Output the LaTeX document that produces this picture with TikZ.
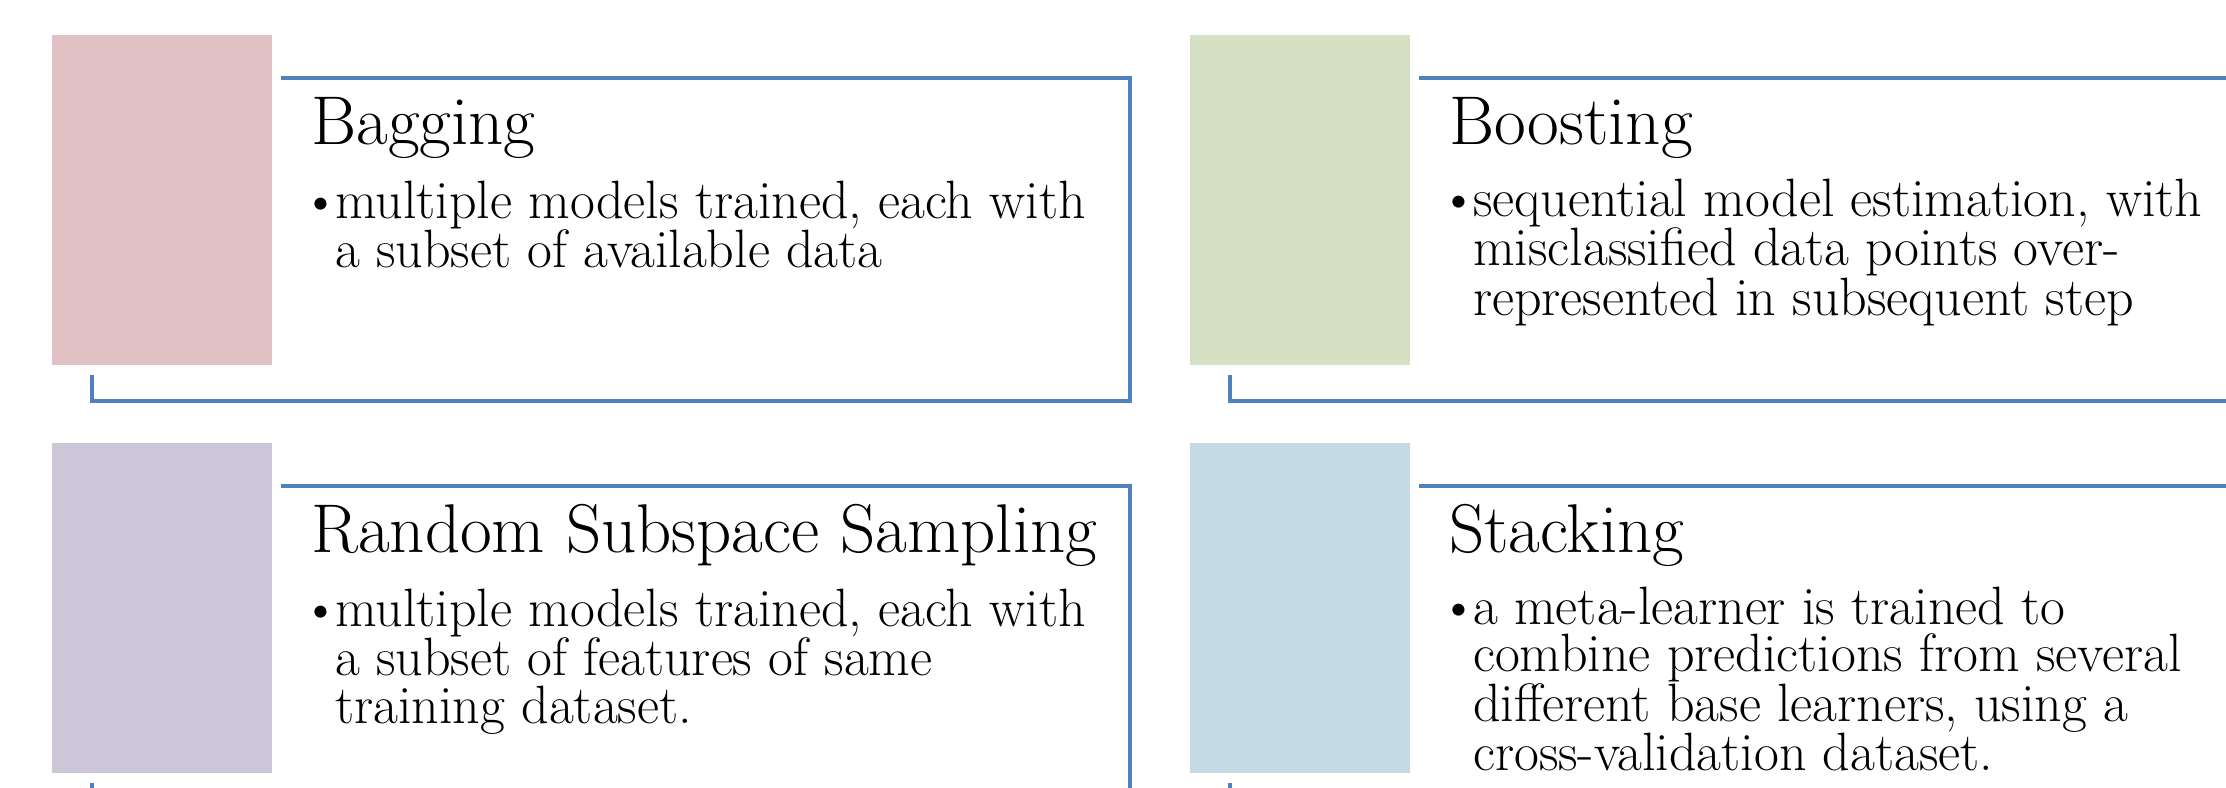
\documentclass[tikz,border=0pt]{standalone}
\definecolor{frameblue}{HTML}{4F81BD}
\definecolor{swpink}{HTML}{E2C1C4}
\definecolor{swgreen}{HTML}{D6E0C4}
\definecolor{swpurple}{HTML}{CDC6D8}
\definecolor{swblue}{HTML}{C3DAE3}
\newcommand\bul{\makebox[24pt][l]{\hspace*{-10pt}\textbullet}}
\newcommand\ind{\hspace*{24pt}}
% #1 name, #2 x shift, #3 y shift, #4 colour, #5 title, #6 number of body lines, #7 body
\newcommand\cellbox[7]{%
\begin{scope}[shift={(#2,#3)}]
  \node[swatch, fill=#4] (#1sw) at (52,35) {};
  \coordinate (#1a) at (281,78);
  \coordinate (#1b) at (1130,401);
  \coordinate (#1c) at (92,375);
  \draw[frame] (#1a) -| (#1b) -| (#1c);
  \node[titletext] (#1t) at (311,144) {#5};
  \node[bodytext] (#1x) at (311,{220+(#6-1)*47.5}) {#7};
\end{scope}}
\begin{document}
\begin{tikzpicture}[x=1pt,y=-1pt,
  frame/.style={draw=frameblue, line width=4.5pt},
  swatch/.style={draw=none, minimum width=220pt, minimum height=330pt, inner sep=0pt, outer sep=0pt, anchor=north west},
  titletext/.style={anchor=base west, inner sep=0pt, font=\fontsize{69}{72}\selectfont},
  bodytext/.style={anchor=base west, inner sep=0pt, align=left, font=\fontsize{54}{47.5}\selectfont}]
\path[use as bounding box] (0,0) rectangle (2226,787);
\clip (0,0) rectangle (2226,787);
\cellbox{bag}{0}{0}{swpink}{Bagging}{2}{\bul multiple models trained, each with\\\ind a subset of available data}
\cellbox{boo}{1138}{0}{swgreen}{Boosting}{3}{\bul sequential model estimation, with\\\ind misclassified data points over-\\\ind represented in subsequent step}
\cellbox{rss}{0}{408}{swpurple}{Random Subspace Sampling}{3}{\bul multiple models trained, each with\\\ind a subset of features of same\\\ind training dataset.}
\cellbox{sta}{1138}{408}{swblue}{Stacking}{4}{\bul a meta-learner is trained to\\\ind combine predictions from several\\\ind different base learners, using a\\\ind cross-validation dataset.}
\end{tikzpicture}
\end{document}
